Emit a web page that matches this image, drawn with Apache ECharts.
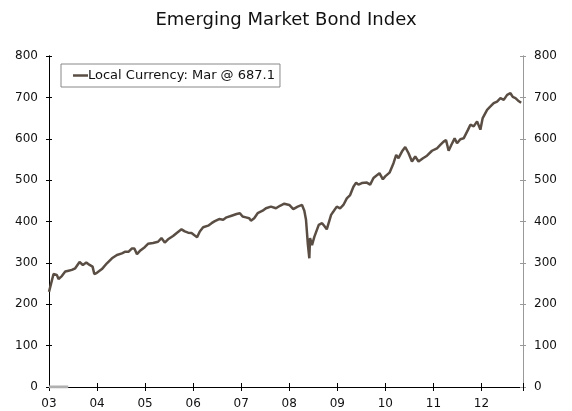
<!DOCTYPE html>
<html>
<head>
<meta charset="utf-8">
<title>Emerging Market Bond Index</title>
<script src="https://cdn.jsdelivr.net/npm/echarts@6/dist/echarts.min.js"></script>
<style>
  html, body { margin: 0; padding: 0; background: #fff; }
  #chart { width: 572px; height: 411px; }
</style>
</head>
<body>
<div id="chart"></div>
<script>
// Observation dates as decimal years
const years = [
  2003.000, 2003.094, 2003.163, 2003.198, 2003.267, 2003.338, 2003.407, 2003.476, 2003.546, 2003.636,
  2003.705, 2003.776, 2003.845, 2003.907, 2003.943, 2003.997, 2004.101, 2004.205, 2004.310, 2004.414,
  2004.518, 2004.589, 2004.658, 2004.727, 2004.777, 2004.831, 2004.902, 2004.992, 2005.060, 2005.165,
  2005.269, 2005.340, 2005.409, 2005.478, 2005.582, 2005.665, 2005.757, 2005.826, 2005.895, 2005.966,
  2006.034, 2006.082, 2006.139, 2006.208, 2006.312, 2006.383, 2006.452, 2006.541, 2006.625, 2006.696,
  2006.800, 2006.904, 2006.973, 2007.029, 2007.098, 2007.167, 2007.202, 2007.271, 2007.342, 2007.446,
  2007.515, 2007.619, 2007.724, 2007.807, 2007.897, 2008.001, 2008.084, 2008.176, 2008.266, 2008.314,
  2008.349, 2008.370, 2008.385, 2008.418, 2008.433, 2008.474, 2008.522, 2008.558, 2008.614, 2008.683,
  2008.731, 2008.781, 2008.871, 2008.919, 2008.990, 2009.058, 2009.127, 2009.198, 2009.267, 2009.336,
  2009.392, 2009.440, 2009.511, 2009.615, 2009.684, 2009.753, 2009.878, 2009.949, 2009.997, 2010.087,
  2010.170, 2010.226, 2010.274, 2010.345, 2010.414, 2010.483, 2010.554, 2010.622, 2010.691, 2010.783,
  2010.867, 2010.971, 2011.075, 2011.144, 2011.213, 2011.263, 2011.317, 2011.373, 2011.442, 2011.492,
  2011.561, 2011.630, 2011.722, 2011.770, 2011.839, 2011.909, 2011.978, 2012.026, 2012.118, 2012.187,
  2012.255, 2012.326, 2012.395, 2012.464, 2012.535, 2012.604, 2012.652, 2012.708, 2012.764, 2012.827
];

// Local currency index level
const localCurrency = [
  230, 273, 271, 261, 268, 279, 281, 283, 287, 302,
  295, 301, 295, 291, 273, 276, 285, 299, 311, 319,
  323, 327, 327, 335, 335, 321, 330, 338, 346, 348,
  351, 360, 349, 357, 365, 373, 381, 376, 373, 372,
  366, 362, 376, 386, 390, 396, 401, 406, 404, 410,
  414, 418, 420, 412, 410, 408, 402, 408, 420, 426,
  432, 436, 432, 438, 443, 440, 430, 436, 440, 426,
  404, 372, 348, 311, 360, 343, 363, 360, 392, 396,
  389, 381, 416, 424, 436, 432, 440, 456, 464, 484,
  494, 489, 493, 494, 489, 505, 517, 502, 509, 518,
  541, 561, 553, 569, 580, 565, 545, 557, 545, 553,
  559, 571, 577, 585, 593, 597, 571, 585, 601, 589,
  599, 601, 622, 634, 630, 642, 622, 650, 670, 678,
  686, 690, 698, 694, 706, 710, 701, 698, 692, 687.1
];

// Short zero-level segment at the start of the period
const baseYears = [2003.0, 2003.4];
const baseValues = [0, 0];

const yTicks = { min: 0, max: 800, step: 100 };
const xRange = { min: 2003, max: 2012.865, step: 1 };

const seriesName = 'Local Currency: Mar @ 687.1';

const mainData = years.map((y, i) => [y, localCurrency[i]]);
const baseData = baseYears.map((y, i) => [y, baseValues[i]]);

const font = 'DejaVu Sans, Verdana, sans-serif';

function yAxisDef(position, color, inside, showLabel) {
  return {
    type: 'value',
    position: position,
    min: yTicks.min,
    max: yTicks.max,
    interval: yTicks.step,
    axisLine: { show: true, onZero: false, lineStyle: { color: color, width: 1 } },
    axisTick: { show: true, inside: inside, length: 3, lineStyle: { color: color } },
    axisLabel: {
      show: showLabel,
      margin: 11,
      color: '#111',
      fontFamily: font,
      fontSize: 12
    },
    splitLine: { show: false }
  };
}

function xAxisDef(inside, showLabel) {
  return {
    type: 'value',
    position: 'bottom',
    min: xRange.min,
    max: xRange.max,
    interval: xRange.step,
    axisLine: { show: true, onZero: false, lineStyle: { color: '#000', width: 1 } },
    axisTick: {
      show: true,
      inside: inside,
      length: 4,
      lineStyle: { color: '#000' }
    },
    axisLabel: {
      show: showLabel,
      margin: 11,
      color: '#111',
      fontFamily: font,
      fontSize: 12,
      formatter: function (v) {
        if (Math.abs(v - Math.round(v)) > 1e-6) return '';
        return String(Math.round(v)).slice(2);
      }
    },
    splitLine: { show: false }
  };
}

const chart = echarts.init(document.getElementById('chart'), null, { renderer: 'canvas' });

chart.setOption({
  animation: false,
  backgroundColor: '#fff',
  title: {
    text: 'Emerging Market Bond Index',
    left: 'center',
    top: 6,
    textStyle: { fontFamily: font, fontSize: 18, fontWeight: 'normal', color: '#111' }
  },
  legend: {
    data: [seriesName],
    left: 61,
    top: 64,
    orient: 'horizontal',
    borderColor: '#888',
    borderWidth: 1,
    padding: [5, 5, 5, 12],
    icon: 'rect',
    itemWidth: 15,
    itemHeight: 2.5,
    textStyle: { fontFamily: font, fontSize: 13, color: '#111', padding: [0, 0, 0, -5] }
  },
  grid: { left: 49, right: 49, top: 56, bottom: 24, containLabel: false },
  xAxis: [xAxisDef(false, true), xAxisDef(true, false)],
  yAxis: [
    yAxisDef('left', '#000', false, true),
    yAxisDef('left', '#000', true, false),
    yAxisDef('right', '#999', false, true),
    yAxisDef('right', '#999', true, false)
  ],
  series: [
    {
      name: 'base',
      type: 'line',
      data: baseData,
      symbol: 'none',
      silent: true,
      lineStyle: { color: '#b0b0b0', width: 3 },
      z: 1
    },
    {
      name: seriesName,
      type: 'line',
      data: mainData,
      symbol: 'none',
      color: '#5a4e44',
      lineStyle: { color: '#5a4e44', width: 2.5 },
      z: 3
    }
  ]
});
</script>
</body>
</html>
